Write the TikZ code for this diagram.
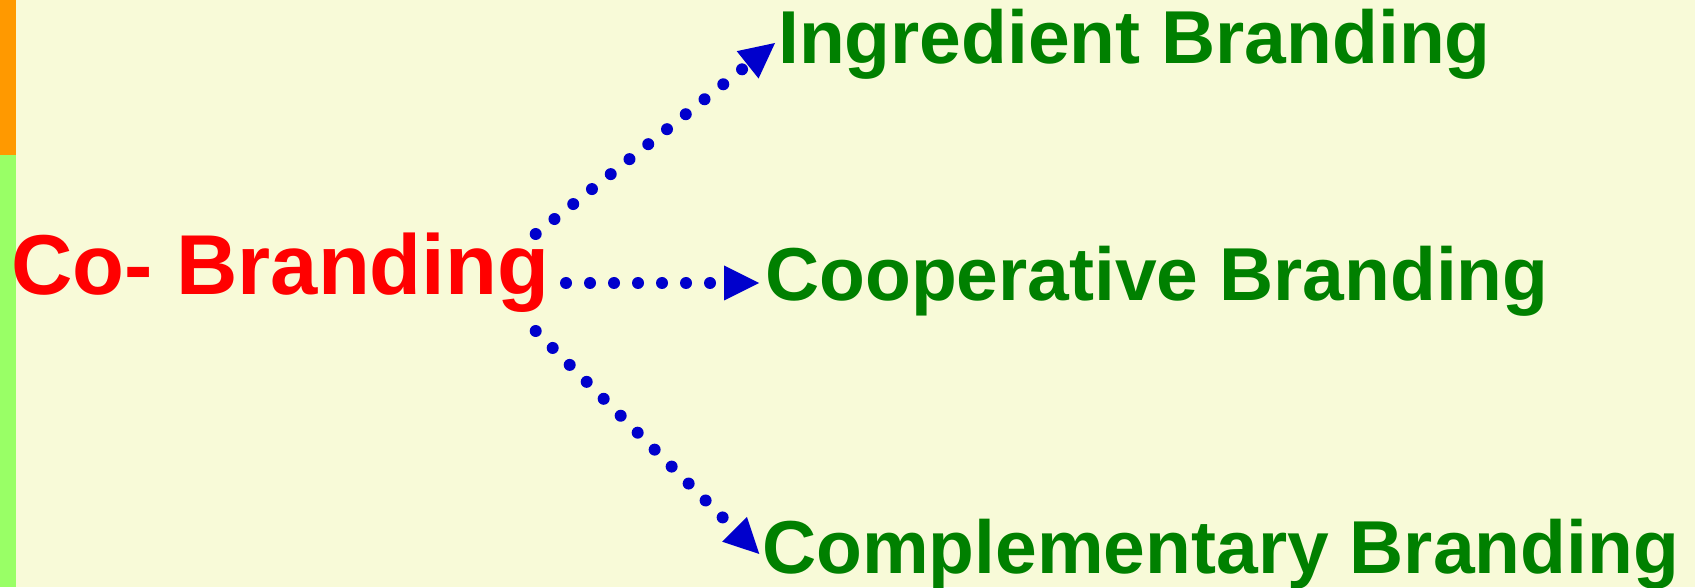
\documentclass[tikz,border=0pt]{standalone}
\usepackage{fontspec}
\setmainfont{Liberation Sans}
\usetikzlibrary{arrows.meta}

\definecolor{pagebg}{RGB}{248,250,216}
\definecolor{barorange}{RGB}{255,153,0}
\definecolor{bargreen}{RGB}{153,255,102}
\definecolor{headred}{RGB}{255,0,0}
\definecolor{itemgreen}{RGB}{0,128,0}
\definecolor{linkblue}{RGB}{0,0,204}

\tikzset{
  headtext/.style={inner sep=0pt, anchor=base west, text=headred,
    font=\fontsize{85}{90}\selectfont\bfseries},
  itemtext/.style={inner sep=0pt, anchor=base west, text=itemgreen,
    font=\fontsize{75}{80}\selectfont\bfseries},
  link/.style={draw=linkblue, line width=12pt, line cap=round,
    dash pattern=on 0pt off 24pt,
    -{Triangle[length=35pt,width=35pt,line width=0pt]}},
}

\begin{document}
\begin{tikzpicture}[x=1pt,y=1pt]
  % page and side bar
  \fill[pagebg] (0,0) rectangle (1695,587);
  \useasboundingbox (0,0) rectangle (1695,587);
  \fill[bargreen] (0,0) rectangle (16,432);
  \fill[barorange] (0,432) rectangle (16,587);

  % labels
  \node[headtext] (co)   at (11,292)  {Co- Branding};
  \node[itemtext] (ingr) at (778,523) {Ingredient Branding};
  \node[itemtext] (coop) at (765,286) {Cooperative Branding};
  \node[itemtext] (comp) at (762,14)  {Complementary Branding};

  % start and end points of the links
  \coordinate (upS)  at (535.7,353);
  \coordinate (upE)  at (775,544);
  \coordinate (midS) at (566,304);
  \coordinate (midE) at (759,304);
  \coordinate (lowS) at (535.7,256);
  \coordinate (lowE) at (759.3,33);

  \draw[link] (upS)  -- (upE);
  \draw[link] (midS) -- (midE);
  \draw[link] (lowS) -- (lowE);
\end{tikzpicture}
\end{document}
